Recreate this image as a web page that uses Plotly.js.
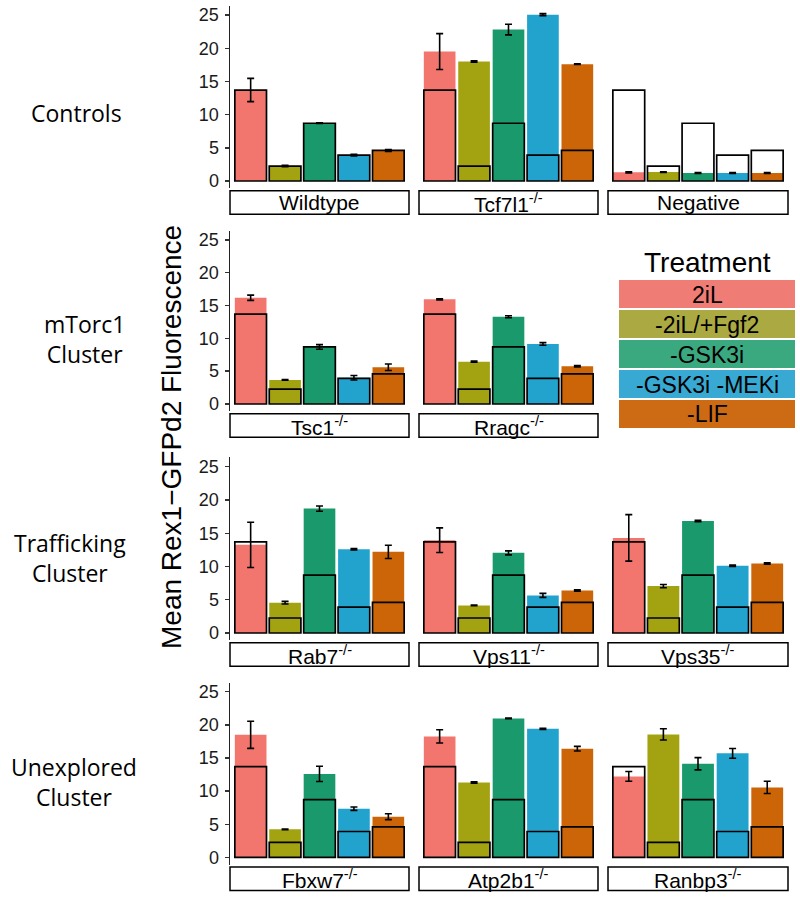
<!DOCTYPE html>
<html>
<head>
<meta charset="utf-8">
<script src="https://cdn.plot.ly/plotly-3.0.1.min.js"></script>
<style>
  html, body { margin: 0; padding: 0; background: #ffffff; }
  #chart { width: 800px; height: 897px; }
</style>
</head>
<body>
<div id="chart"></div>
<script>
// ---------------- DATA ----------------
const treatments = ["2iL", "-2iL/+Fgf2", "-GSK3i", "-GSK3i -MEKi", "-LIF"];
const barColors = ["#F2766E", "#A3A312", "#1A9A6C", "#22A3CD", "#CC6508"];
const legendColors = ["#EF7D76", "#ABAA42", "#3AA980", "#38A9D3", "#CD6A14"];

// wildtype reference drawn as black outline in every panel
const wildtypeRef = [13.7, 2.25, 8.7, 3.9, 4.6];

const panelNames = ["Wildtype", "Tcf7l1<sup>-/-</sup>", "Negative",
                    "Tsc1<sup>-/-</sup>", "Rragc<sup>-/-</sup>",
                    "Rab7<sup>-/-</sup>", "Vps11<sup>-/-</sup>", "Vps35<sup>-/-</sup>",
                    "Fbxw7<sup>-/-</sup>", "Atp2b1<sup>-/-</sup>", "Ranbp3<sup>-/-</sup>"];

const meanWildtype = [13.7, 2.25, 8.7, 3.9, 4.6];
const errWildtype  = [1.75, 0.1, 0.05, 0.12, 0.15];
const meanTcf7l1   = [19.5, 18.0, 22.8, 25.05, 17.6];
const errTcf7l1    = [2.7, 0.12, 0.8, 0.15, 0.05];
const meanNegative = [1.3, 1.35, 1.2, 1.2, 1.2];
const errNegative  = [0.1, 0.05, 0.08, 0.08, 0.08];
const meanTsc1     = [16.2, 3.66, 8.7, 4.0, 5.6];
const errTsc1      = [0.4, 0.05, 0.35, 0.35, 0.5];
const meanRragc    = [15.95, 6.45, 13.3, 9.15, 5.75];
const errRragc     = [0.1, 0.08, 0.15, 0.2, 0.1];
const meanRab7     = [13.25, 4.55, 18.7, 12.6, 12.2];
const errRab7      = [3.4, 0.2, 0.4, 0.1, 1.0];
const meanVps11    = [13.95, 4.15, 12.05, 5.65, 6.4];
const errVps11     = [1.85, 0.05, 0.3, 0.3, 0.1];
const meanVps35    = [14.3, 7.05, 16.85, 10.1, 10.45];
const errVps35     = [3.5, 0.25, 0.1, 0.1, 0.1];
const meanFbxw7    = [18.5, 4.22, 12.6, 7.34, 6.14];
const errFbxw7     = [2.05, 0.05, 1.15, 0.25, 0.45];
const meanAtp2b1   = [18.26, 11.3, 20.98, 19.4, 16.4];
const errAtp2b1    = [1.0, 0.1, 0.05, 0.1, 0.35];
const meanRanbp3   = [12.22, 18.56, 14.13, 15.7, 10.56];
const errRanbp3    = [0.73, 0.85, 0.93, 0.73, 0.93];

const rowLabels = ["Controls", "mTorc1<br>Cluster", "Trafficking<br>Cluster", "Unexplored<br>Cluster"];
const yTitle = "Mean Rex1\u2212GFPd2 Fluorescence";
const legendTitle = "Treatment";
const tickValues = [0, 5, 10, 15, 20, 25];

// ---------------- LAYOUT ----------------
const W = 800, H = 897;
const px = p => p / W;
const py = p => 1 - p / H;
const colX = [[230, 409], [419, 598], [608, 788]];
const rowY = [[5.7, 188.3], [230.8, 411.2], [457.4, 640.3], [682.5, 864.6]];
const slots = [[0,0],[0,1],[0,2],[1,0],[1,1],[2,0],[2,1],[2,2],[3,0],[3,1],[3,2]];

const panelMeans = [meanWildtype, meanTcf7l1, meanNegative, meanTsc1, meanRragc,
                    meanRab7, meanVps11, meanVps35, meanFbxw7, meanAtp2b1, meanRanbp3];
const panelErrs  = [errWildtype, errTcf7l1, errNegative, errTsc1, errRragc,
                    errRab7, errVps11, errVps35, errFbxw7, errAtp2b1, errRanbp3];

const tickFont = { family: "Liberation Sans, Arial, sans-serif", size: 18, color: "#1a1a1a" };
const data = [];
const layout = {
  width: W, height: H,
  margin: { l: 0, r: 0, t: 0, b: 0 },
  paper_bgcolor: "#ffffff", plot_bgcolor: "rgba(0,0,0,0)",
  barmode: "overlay",
  showlegend: false,
  shapes: [], annotations: []
};

slots.forEach((slot, i) => {
  const [r, c] = slot;
  const s = i === 0 ? "" : String(i + 1);
  const [x0, x1] = colX[c];
  const [yt, yb] = rowY[r];
  layout["xaxis" + s] = {
    domain: [px(x0), px(x1)], anchor: "y" + s,
    type: "category", categoryorder: "array", categoryarray: treatments,
    range: [-0.6, 4.6], showticklabels: false, ticks: "", showline: false,
    showgrid: false, zeroline: false, fixedrange: true
  };
  layout["yaxis" + s] = {
    domain: [py(yb), py(yt)], anchor: "x" + s,
    range: [-1.1, 26.4], tickmode: "array", tickvals: tickValues,
    showticklabels: c === 0, ticks: c === 0 ? "outside" : "", ticklen: 4, tickwidth: 1.4, tickcolor: "#333",
    showline: c === 0, linecolor: "#222", linewidth: 1.5,
    showgrid: false, zeroline: false, tickfont: tickFont, ticklabelstandoff: 2, fixedrange: true
  };
  data.push({
    type: "bar", x: treatments, y: panelMeans[i], xaxis: "x" + s, yaxis: "y" + s,
    width: 0.92, marker: { color: barColors, line: { width: 0 } },
    error_y: { type: "data", array: panelErrs[i], visible: true, color: "#000", thickness: 1.6, width: 3.5 },
    hoverinfo: "skip"
  });
  data.push({
    type: "bar", x: treatments, y: wildtypeRef, xaxis: "x" + s, yaxis: "y" + s,
    width: 0.92, marker: { color: "rgba(0,0,0,0)", line: { color: "#000", width: 1.7 } },
    hoverinfo: "skip"
  });
  // facet strip
  layout.shapes.push({
    type: "rect", xref: "paper", yref: "paper",
    x0: px(x0), x1: px(x1), y0: py(yb + 2.5), y1: py(yb + 26),
    line: { color: "#000", width: 1.5 }, fillcolor: "#ffffff"
  });
  layout.annotations.push({
    xref: "paper", yref: "paper", x: px((x0 + x1) / 2), y: py(yb + 14.5),
    text: panelNames[i], showarrow: false, xanchor: "center", yanchor: "middle",
    font: { family: "Liberation Sans, Arial, sans-serif", size: 21, color: "#000" }
  });
});

// row labels
const rowLabelPos = [[76, 113], [84, 339], [70, 558], [74, 782]];
rowLabels.forEach((t, r) => {
  layout.annotations.push({
    xref: "paper", yref: "paper", x: px(rowLabelPos[r][0]), y: py(rowLabelPos[r][1]),
    text: t, showarrow: false, xanchor: "center", yanchor: "middle", align: "center",
    font: { family: "Open Sans, Noto Sans, sans-serif", size: 23, color: "#000" }
  });
});

// y axis title
layout.annotations.push({
  xref: "paper", yref: "paper", x: px(171), y: py(437), text: yTitle, textangle: -90,
  showarrow: false, xanchor: "center", yanchor: "middle",
  font: { family: "Liberation Sans, Arial, sans-serif", size: 28, color: "#000" }
});

// legend (built from treatments + colours)
layout.annotations.push({
  xref: "paper", yref: "paper", x: px(707), y: py(262), text: legendTitle,
  showarrow: false, xanchor: "center", yanchor: "middle",
  font: { family: "Liberation Sans, Arial, sans-serif", size: 28, color: "#000" }
});
treatments.forEach((t, k) => {
  const top = 280 + 30 * k;
  layout.shapes.push({
    type: "rect", xref: "paper", yref: "paper",
    x0: px(619), x1: px(795), y0: py(top + 28), y1: py(top),
    line: { width: 0 }, fillcolor: legendColors[k]
  });
  layout.annotations.push({
    xref: "paper", yref: "paper", x: px(707), y: py(top + 14.5), text: t,
    showarrow: false, xanchor: "center", yanchor: "middle",
    font: { family: "Liberation Sans, Arial, sans-serif", size: 23, color: "#000" }
  });
});

Plotly.newPlot("chart", data, layout, { staticPlot: true, displayModeBar: false });
</script>
</body>
</html>
